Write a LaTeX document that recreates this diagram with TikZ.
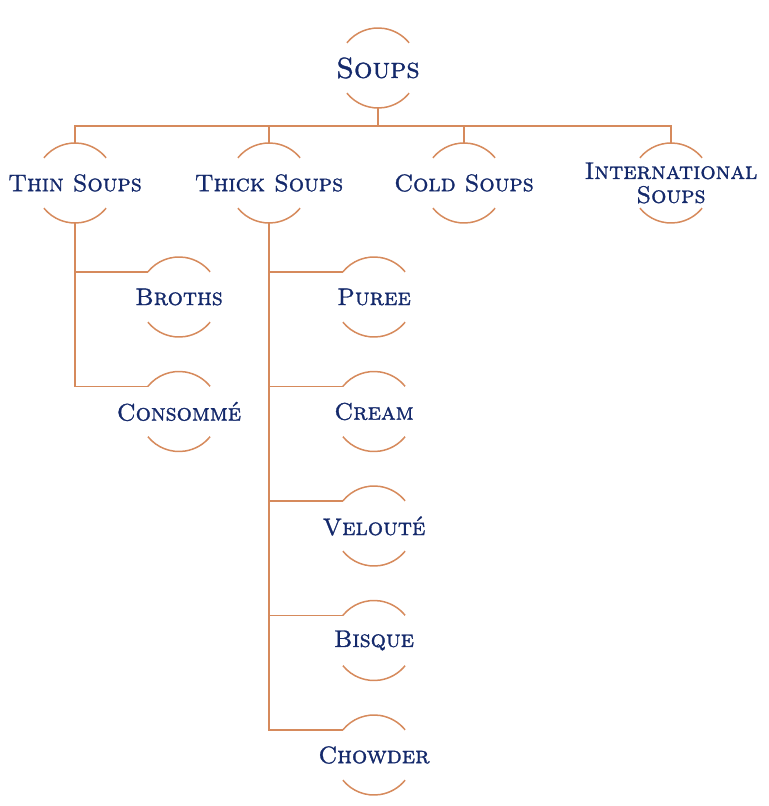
\documentclass[tikz,border=0pt]{standalone}
\usepackage{tikz}
\usepackage{xcolor}
\usepackage{fontspec}
\usetikzlibrary{positioning}

\newfontfamily\soupfont{lmromancaps10-regular.otf}[FakeBold=1.2]
\definecolor{soupblue}{HTML}{14296B}
\definecolor{souporange}{HTML}{D68A5C}

\begin{document}
\begin{tikzpicture}[node distance=57.25pt, on grid, x=1pt, y=1pt]
    \tikzstyle{ring}=[circle, minimum size=40pt, inner sep=0pt, outer sep=0pt]
    \tikzstyle{soupname}=[text=soupblue, font=\soupfont\fontsize{12}{12}\selectfont, align=center]
    \tikzstyle{link}=[souporange, line width=0.75pt]

    \useasboundingbox (0,0) rectangle (384,-403);

    \node[ring, label={[soupname, font=\soupfont\fontsize{14.5}{15}\selectfont]center:Soups}] (soups) at (189,-34) {};
    \node[ring, label={[soupname]center:Thin Soups}] (thin) at (37.5,-91.5) {};
    \node[ring, label={[soupname]center:Thick Soups}] (thick) at (134.5,-91.5) {};
    \node[ring, label={[soupname]center:Cold Soups}] (cold) at (232,-91.5) {};
    \node[ring, label={[soupname]center:International\\Soups}] (intl) at (335.5,-91.5) {};

    \node[ring, below right=57pt and 52pt of thin, label={[soupname]center:Broths}] (broths) {};
    \node[ring, below=of broths, label={[soupname]center:Consommé}] (consomme) {};

    \node[ring, below right=57pt and 52.5pt of thick, label={[soupname]center:Puree}] (puree) {};
    \node[ring, below=of puree, label={[soupname]center:Cream}] (cream) {};
    \node[ring, below=of cream, label={[soupname]center:Velouté}] (veloute) {};
    \node[ring, below=of veloute, label={[soupname]center:Bisque}] (bisque) {};
    \node[ring, below=of bisque, label={[soupname]center:Chowder}] (chowder) {};

    % open rings round every name
    \foreach \n in {soups, thin, thick, cold, intl, broths, consomme, puree, cream, veloute, bisque, chowder} {
        \draw[link] (\n.141) arc[start angle=141, end angle=39, radius=20pt];
        \draw[link] (\n.-141) arc[start angle=-141, end angle=-39, radius=20pt];
    }

    \coordinate[above=8.5pt of thin.north] (bar);
    \draw[link] (thin.north) -- (bar) -| (intl.north);
    \draw[link] (soups.south) -- (soups.south |- bar);
    \draw[link] (thick.north) -- (thick.north |- bar);
    \draw[link] (cold.north) -- (cold.north |- bar);

    \draw[link] (thin.south) |- (consomme.141);
    \draw[link] (thin.south |- broths.141) -- (broths.141);
    \draw[link] (thick.south) |- (chowder.141);
    \foreach \n in {puree, cream, veloute, bisque}
        \draw[link] (thick.south |- \n.141) -- (\n.141);
\end{tikzpicture}
\end{document}
